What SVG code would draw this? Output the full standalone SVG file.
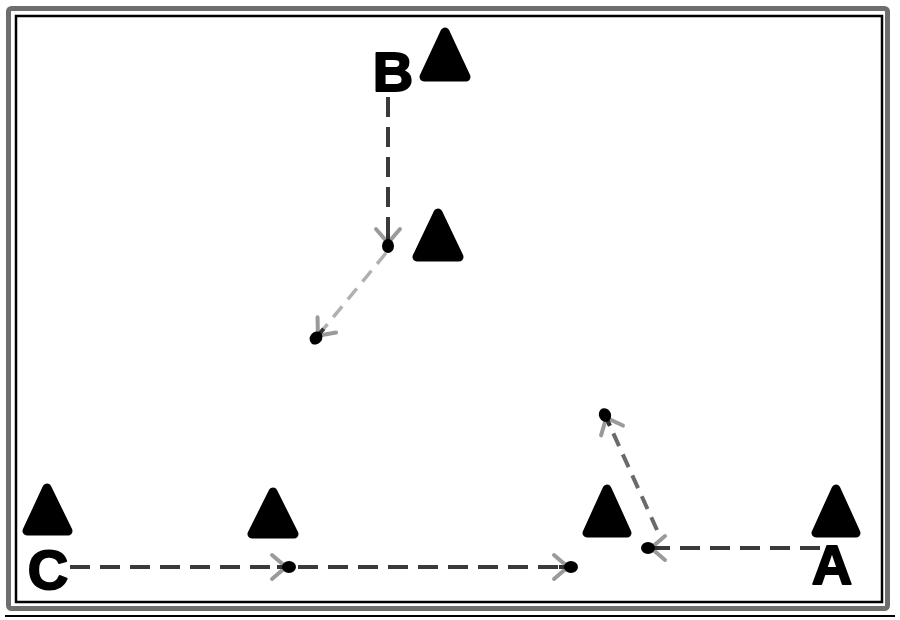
<svg xmlns="http://www.w3.org/2000/svg" width="900" height="620" viewBox="0 0 900 620">
<style>
.cone{fill:#000;stroke:#000;stroke-width:9;stroke-linejoin:round}
.lbl{font-family:"Liberation Sans",Arial,sans-serif;font-weight:bold;font-size:56px;fill:#000;stroke:#000;stroke-width:2;stroke-linejoin:round;text-anchor:middle}
.run{fill:none;stroke:#3a3a3a;stroke-width:4;stroke-dasharray:20 10}
.pass{fill:none;stroke:#b0b0b0;stroke-width:3.5;stroke-dasharray:14 9}
.mid{fill:none;stroke:#6a6a6a;stroke-width:4;stroke-dasharray:14 9}
</style>
<defs>
<marker id="ah" viewBox="-24 -16 32 32" refX="0" refY="0" markerWidth="32" markerHeight="32" markerUnits="userSpaceOnUse" orient="auto">
<path d="M-17 -12 L-3 0 L-17 12" fill="none" stroke="#9a9a9a" stroke-width="4" stroke-linecap="round" stroke-linejoin="round"/>
<line x1="-12" y1="0" x2="0" y2="0" stroke="#333" stroke-width="4"/>
<ellipse cx="0" cy="0" rx="7" ry="6" fill="#000"/>
</marker>
</defs>
<rect x="0" y="0" width="900" height="620" fill="#fff"/>
<g id="frame">
<rect x="8.5" y="8.5" width="879" height="600" rx="3" fill="none" stroke="#6e6e6e" stroke-width="5"/>
<rect x="16" y="16" width="866" height="586" fill="none" stroke="#000" stroke-width="2.5"/>
<line x1="5" y1="616" x2="895" y2="616" stroke="#000" stroke-width="2"/>
</g>
<g id="connectors">
<path class="run" d="M388 97 V246" marker-end="url(#ah)"/>
<path class="pass" d="M386 253 L316 338" marker-end="url(#ah)"/>
<path class="run" d="M70 567 H289" marker-end="url(#ah)"/>
<path class="run" d="M298 567 H571" marker-end="url(#ah)"/>
<path class="run" d="M820 548 H648" marker-end="url(#ah)"/>
<path class="mid" d="M657 530 L605 415" marker-end="url(#ah)"/>
</g>
<g id="cone-b"><polygon class="cone" points="445,32 424,77 466,77"/></g>
<g id="cone-mid"><polygon class="cone" points="438,213 417,257 459,257"/></g>
<g id="cone-1"><polygon class="cone" points="47,488 27,531 68,531"/></g>
<g id="cone-2"><polygon class="cone" points="273,492 252,534 294,534"/></g>
<g id="cone-3"><polygon class="cone" points="607,489 587,533 627,533"/></g>
<g id="cone-4"><polygon class="cone" points="836,489 816,533 856,533"/></g>
<g id="label-b"><text class="lbl" x="393" y="91">B</text></g>
<g id="label-c"><text class="lbl" x="48" y="589">C</text></g>
<g id="label-a"><text class="lbl" x="832" y="584">A</text></g>
</svg>
